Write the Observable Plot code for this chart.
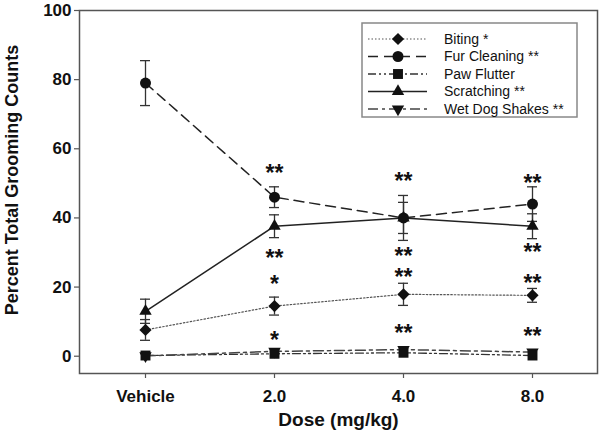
<!DOCTYPE html>
<html><head><meta charset="utf-8">
<script src="https://cdn.jsdelivr.net/npm/d3@7"></script>
<script src="https://cdn.jsdelivr.net/npm/@observablehq/plot@0.6"></script>
<style>body{margin:0;background:#fff}</style>
</head><body><div id="chart"></div>
<script>
const doses = ["Vehicle", "2.0", "4.0", "8.0"];
const seriesNames = ["Biting *", "Fur Cleaning **", "Paw Flutter", "Scratching **", "Wet Dog Shakes **"];
const biting = [7.6, 14.5, 17.9, 17.6];
const bitingErr = [3.0, 2.6, 3.2, 2.0];
const furCleaning = [79, 46, 40, 44];
const furCleaningErr = [6.5, 3.0, 6.5, 5.0];
const pawFlutter = [0.2, 0.7, 1.0, 0.2];
const pawFlutterErr = [0, 0, 0, 0];
const scratching = [13, 37.6, 40, 37.6];
const scratchingErr = [3.5, 3.3, 4.5, 3.6];
const wetDogShakes = [0.1, 1.4, 1.9, 1.2];
const wetDogShakesErr = [0, 0, 0, 0];
const annotDose = ["2.0", "2.0", "2.0", "2.0", "4.0", "4.0", "4.0", "4.0", "8.0", "8.0", "8.0", "8.0"];
const annotValue = [53.8, 29.1, 21.7, 5.4, 51.4, 29.8, 23.6, 7.5, 50.9, 30.9, 21.9, 6.5];
const annotText = ["**", "**", "*", "*", "**", "**", "**", "**", "**", "**", "**", "**"];
const yTicks = [0, 20, 40, 60, 80, 100];

const values = [biting, furCleaning, pawFlutter, scratching, wetDogShakes];
const errs = [bitingErr, furCleaningErr, pawFlutterErr, scratchingErr, wetDogShakesErr];
const styles = [
  {symbol: d3.symbolDiamond2, name: "diamond2", r: 5.5, rotate: 0, stroke: "#555", width: 1.2, dash: "1.5,2"},
  {symbol: d3.symbolCircle, name: "circle", r: 5.5, rotate: 0, stroke: "#222", width: 1.5, dash: "10,6"},
  {symbol: d3.symbolSquare, name: "square", r: 5.6, rotate: 0, stroke: "#333", width: 1.3, dash: "8,3,2,3,2,3"},
  {symbol: d3.symbolTriangle, name: "triangle", r: 4.6, rotate: 0, stroke: "#222", width: 1.5, dash: null},
  {symbol: d3.symbolTriangle, name: "triangle", r: 4.6, rotate: 180, stroke: "#444", width: 1.5, dash: "10,4,3,4"}
];

const rows = [];
seriesNames.forEach((s, k) => doses.forEach((d, i) => rows.push({series: s, k, dose: d, value: values[k][i], err: errs[k][i]})));
const annots = annotDose.map((d, i) => ({dose: d, value: annotValue[i], text: annotText[i]}));

const marks = [];
seriesNames.forEach((s, k) => {
  const st = styles[k];
  marks.push(Plot.line(rows.filter(r => r.k === k), {x: "dose", y: "value", stroke: st.stroke, strokeWidth: st.width, strokeDasharray: st.dash}));
});
const eb = rows.filter(r => r.err > 0);
marks.push(Plot.ruleX(eb, {x: "dose", y1: r => r.value - r.err, y2: r => r.value + r.err, stroke: "#333", strokeWidth: 1.3}));
marks.push(Plot.ruleY(eb, {x1: "dose", x2: "dose", y: r => r.value + r.err, insetLeft: -5, insetRight: -5, stroke: "#333", strokeWidth: 1.3}));
marks.push(Plot.ruleY(eb, {x1: "dose", x2: "dose", y: r => r.value - r.err, insetLeft: -5, insetRight: -5, stroke: "#333", strokeWidth: 1.3}));
[4, 3, 1, 0, 2].forEach(k => {
  const st = styles[k];
  marks.push(Plot.dot(rows.filter(r => r.k === k), {x: "dose", y: "value", symbol: st.name, r: st.r, fill: "#111", stroke: "none", rotate: st.rotate}));
});
marks.push(Plot.text(annots, {x: "dose", y: "value", text: "text", fontSize: 23, fontWeight: "bold", fill: "#111", dy: 3}));
marks.push(Plot.frame({stroke: "#555", strokeWidth: 1.5}));
marks.push(Plot.axisY({ticks: yTicks, tickSize: 5, tickPadding: 3, fontSize: 17, fontWeight: "bold", fill: "#111", stroke: "#555", strokeWidth: 1.2, label: null}));
marks.push(Plot.axisX({tickSize: 5, tickPadding: 11, fontSize: 17, fontWeight: "bold", fill: "#111", stroke: "#555", strokeWidth: 1.2, label: null}));
marks.push(Plot.text(["Percent Total Grooming Counts"], {frameAnchor: "left", textAnchor: "middle", rotate: -90, dx: -67, dy: -12, fontSize: 18, fontWeight: "bold", fill: "#111"}));
marks.push(Plot.text(["Dose (mg/kg)"], {frameAnchor: "bottom", dy: 52, fontSize: 19, fontWeight: "bold", fill: "#111"}));

const plot = Plot.plot({
  width: 600, height: 439,
  marginLeft: 79, marginRight: 3, marginTop: 10, marginBottom: 66,
  style: {fontFamily: "'Liberation Sans', Arial, sans-serif", background: "#fff", color: "#111"},
  x: {type: "point", domain: doses, padding: 0.5},
  y: {domain: [-5, 100]},
  marks
});

const svg = d3.select(plot);
const fy = plot.scale("y").range;
const frameRight = 600 - 3;
const frameTop = Math.min(...fy);
const bw = 215, bh = 94;
const bx = frameRight - 20 - bw, by = frameTop + 13;
const g = svg.append("g").attr("class", "legend");
g.append("rect").attr("x", bx).attr("y", by).attr("width", bw).attr("height", bh).attr("fill", "#fff").attr("stroke", "#888").attr("stroke-width", 1.5);
seriesNames.forEach((s, k) => {
  const st = styles[k];
  const yy = by + 16 + k * 17.5;
  g.append("line").attr("x1", bx + 6).attr("x2", bx + 65).attr("y1", yy).attr("y2", yy)
    .attr("stroke", st.stroke).attr("stroke-width", st.width).attr("stroke-dasharray", st.dash);
  g.append("path").attr("d", d3.symbol(st.symbol, Math.PI * st.r * st.r)())
    .attr("transform", `translate(${bx + 36},${yy}) rotate(${st.rotate})`).attr("fill", "#111");
  g.append("text").attr("x", bx + 82).attr("y", yy).attr("dy", "0.35em").attr("text-anchor", "start")
    .attr("font-size", 14).attr("fill", "#111").text(s);
});

document.getElementById("chart").appendChild(plot);
</script>
</body></html>
